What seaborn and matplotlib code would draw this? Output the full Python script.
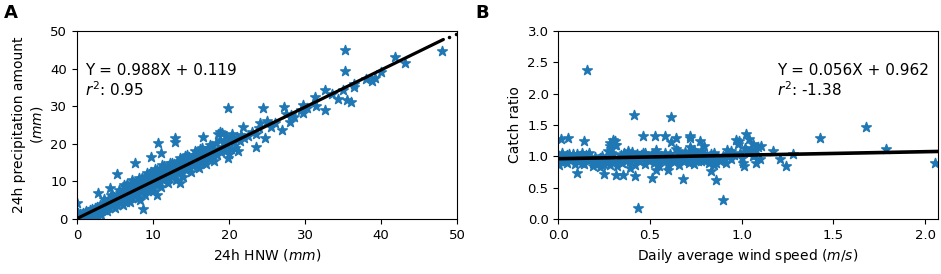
import numpy as np
import pandas as pd
import matplotlib
matplotlib.use("Agg")
import matplotlib.pyplot as plt
import seaborn as sns

# ---------------- Panel A data: 24h HNW vs 24h precipitation amount ----------------
hnw = [0.2, 0.4, 0.5, 0.7, 0.8, 1.0, 1.1, 1.2, 1.3, 1.5, 1.6, 1.7, 1.9, 2.0, 2.1, 2.3, 2.4, 2.5,
       2.7, 2.8, 2.9, 3.0, 3.1, 3.3, 3.4, 3.5, 3.6, 3.8, 3.9, 4.0, 4.1, 4.2, 4.4, 4.5, 4.6, 4.8,
       4.9, 5.0, 5.1, 5.2, 5.3, 5.5, 5.6, 5.7, 5.9, 6.0, 6.1, 6.2, 6.3, 6.4, 6.5, 6.6, 6.7, 6.8,
       6.9, 7.0, 7.1, 7.2, 7.3, 7.4, 7.5, 7.6, 7.8, 7.9, 8.0, 8.1, 8.2, 8.3, 8.5, 8.6, 8.7, 8.8,
       8.9, 9.0, 9.1, 9.2, 9.3, 9.4, 9.5, 9.6, 9.7, 9.8, 9.9, 10.0, 10.1, 10.2, 10.3, 10.4, 10.5,
       10.6, 10.8, 10.9, 11.0, 11.2, 11.3, 11.4, 11.6, 11.7, 11.8, 12.0, 12.1, 12.2, 12.4, 12.5,
       12.6, 12.8, 12.9, 13.0, 13.2, 13.3, 13.5, 13.6, 13.8, 14.0, 14.2, 14.3, 14.5, 14.7, 14.8,
       15.0, 15.2, 15.3, 15.5, 15.7, 15.8, 16.0, 16.2, 16.3, 16.5, 16.7, 16.8, 17.0, 17.2, 17.4,
       17.5, 17.8, 17.9, 18.0, 18.3, 18.4, 18.5, 18.6, 18.8, 19.0, 19.1, 19.2, 19.4, 19.5, 19.6,
       19.8, 20.0, 20.1, 20.2, 20.4, 20.6, 20.8, 21.0, 21.2, 21.4, 21.6, 22.0, 22.5, 23.0, 23.5,
       24.0, 25.0, 25.5, 26.0, 27.5, 28.2, 29.5, 30.2, 33.5, 35.0, 36.5, 38.0, 38.8, 39.2, 40.0,
       35.3, 35.3, 48.0, 41.8, 43.2, 36.4, 36.1, 35.5, 34.4, 32.6, 32.6, 31.3, 31.5, 29.8, 29.8,
       27.2, 27.0, 28.0, 28.5, 24.5, 24.7, 23.6, 24.1, 21.9, 19.9, 18.8, 19.9, 16.6, 12.9, 12.9,
       10.7, 11.1, 9.8, 7.6, 5.3, 4.3, 2.8, 8.7, 13.5, 10.5, 0.0, 8.3, 0.1, 0.3, 1.4, 2.2, 3.2,
       3.0, 4.0, 5.0, 6.0, 7.0, 8.0, 9.0, 10.0, 11.0, 12.0, 13.0, 14.0, 15.0, 16.0, 17.0, 18.0,
       3.5, 4.5, 5.5, 6.5, 7.5, 8.5, 9.5, 10.5, 11.5, 12.5, 13.5, 14.5, 15.5, 16.5, 17.5,
       6.2, 7.2, 8.2, 9.2, 10.2, 11.2, 12.2, 14.2, 16.2]
precip = [0.5, 1.2, 0.3, 0.9, 1.6, 0.8, 1.5, 2.0, 0.9, 1.8, 1.2, 2.4, 1.6, 2.6, 1.3, 2.2, 3.0, 1.8,
          3.3, 2.5, 1.6, 3.6, 2.8, 3.1, 4.0, 2.3, 3.4, 4.4, 3.0, 3.9, 5.0, 2.9, 4.3, 5.3, 3.6, 4.9,
          5.8, 4.1, 5.2, 6.3, 3.8, 5.6, 6.8, 4.7, 5.9, 7.6, 5.0, 6.4, 8.4, 4.6, 6.9, 9.4, 5.8, 7.3,
          8.0, 6.2, 7.6, 9.0, 5.5, 7.9, 8.6, 6.6, 8.2, 9.6, 7.0, 8.5, 10.2, 7.4, 8.9, 10.8, 7.6, 9.3,
          11.2, 8.0, 9.6, 10.5, 7.5, 9.9, 11.6, 8.4, 10.3, 12.6, 8.9, 10.5, 11.8, 9.2, 10.9, 12.2, 9.0,
          11.2, 12.8, 9.8, 11.5, 13.2, 10.4, 11.9, 13.0, 10.8, 12.4, 14.0, 11.0, 12.6, 13.6, 11.6,
          13.0, 14.6, 11.9, 13.4, 15.2, 12.2, 13.8, 15.5, 12.6, 14.3, 16.0, 13.0, 14.8, 16.4, 13.6,
          15.2, 16.8, 14.2, 15.6, 17.0, 14.6, 16.0, 17.6, 14.8, 16.5, 18.2, 15.3, 17.0, 18.8, 16.0,
          17.5, 19.5, 16.6, 18.0, 20.2, 17.0, 22.5, 18.6, 21.0, 17.8, 22.8, 19.2, 20.8, 18.0, 22.2,
          19.9, 17.2, 21.5, 18.6, 22.6, 20.4, 19.0, 21.8, 18.2, 20.8, 22.4, 21.6, 22.0, 23.2, 22.5,
          24.2, 26.0, 24.6, 25.4, 28.0, 27.6, 29.0, 29.4, 33.2, 34.4, 35.8, 37.2, 36.8, 37.5, 39.2,
          44.9, 39.4, 44.8, 43.2, 41.4, 35.2, 31.2, 31.6, 31.9, 34.3, 29.0, 32.5, 30.0, 30.3, 28.1,
          29.9, 23.7, 25.9, 27.2, 29.4, 21.5, 19.2, 25.4, 24.6, 29.4, 23.2, 16.1, 21.7, 21.5, 20.6,
          20.1, 17.5, 16.6, 14.8, 12.0, 8.2, 6.8, 2.7, 9.5, 6.4, 4.2, 5.1, 1.5, 0.2, 0.4, 0.8, 1.0,
          1.2, 2.0, 3.0, 3.6, 4.5, 5.6, 6.3, 7.4, 8.5, 9.6, 10.4, 11.3, 12.4, 13.6, 14.5, 15.4,
          5.2, 6.4, 7.6, 8.8, 9.7, 11.0, 11.9, 13.0, 14.1, 15.0, 16.1, 17.0, 18.0, 19.0, 19.8,
          9.0, 10.4, 11.0, 12.3, 13.4, 14.3, 15.0, 16.8, 18.6]
fit_a = (0.988, 0.119)          # slope, intercept
fit_a_range = (0.0, 48.2)
fit_a_dots = [49.0, 49.8]        # trailing prediction dots beyond the line

# ---------------- Panel B data: wind speed vs catch ratio ----------------
wind = [0.00, 0.01, 0.02, 0.03, 0.04, 0.05, 0.06, 0.07, 0.08, 0.09, 0.10, 0.11, 0.12, 0.13, 0.14,
        0.15, 0.16, 0.17, 0.18, 0.19, 0.20, 0.21, 0.22, 0.23, 0.24, 0.25, 0.26, 0.27, 0.28, 0.29,
        0.30, 0.31, 0.32, 0.33, 0.34, 0.35, 0.36, 0.37, 0.38, 0.39, 0.40, 0.41, 0.42, 0.43, 0.44,
        0.45, 0.46, 0.47, 0.48, 0.49, 0.50, 0.51, 0.52, 0.53, 0.54, 0.55, 0.56, 0.57, 0.58, 0.59,
        0.60, 0.61, 0.62, 0.63, 0.64, 0.65, 0.66, 0.67, 0.68, 0.69, 0.70, 0.71, 0.72, 0.73, 0.74,
        0.75, 0.76, 0.77, 0.78, 0.79, 0.80, 0.81, 0.82, 0.83, 0.84, 0.85, 0.86, 0.87, 0.88, 0.90,
        0.92, 0.94, 0.96, 0.98, 1.00, 1.02, 1.04, 1.06, 1.08, 1.10,
        0.00, 0.02, 0.04, 0.06, 0.08, 0.11, 0.13, 0.15, 0.18, 0.21, 0.24, 0.27, 0.30, 0.33, 0.36,
        0.39, 0.42, 0.45, 0.48, 0.51, 0.54, 0.57, 0.60, 0.63, 0.66, 0.69, 0.72, 0.75, 0.78, 0.81,
        0.84, 0.87, 0.91, 0.95, 0.99, 1.03, 1.07,
        0.01, 0.03, 0.05, 0.09, 0.12, 0.16, 0.19, 0.23, 0.26, 0.29, 0.35, 0.38, 0.44, 0.47, 0.53,
        0.56, 0.62, 0.65, 0.71, 0.74, 0.80, 0.83, 0.89, 0.93, 1.05,
        0.158, 0.435, 0.413, 0.616, 0.897, 0.86, 0.68, 0.51, 1.676, 1.428, 1.788, 2.056, 1.28,
        1.24, 1.21, 1.17, 1.105, 1.078, 1.024, 1.01, 1.005, 0.987, 0.97, 0.94, 0.915, 0.85, 0.833,
        0.797, 0.77, 0.716, 0.72, 0.643, 0.616, 0.58, 0.525, 0.462, 0.598, 0.534, 0.353, 0.417,
        0.317, 0.10, 0.054, 0.013, 0.141, 0.30, 0.284, 0.317, 0.005, 1.04, 1.06, 1.09, 0.25,
        0.28, 0.31]
ratio = [1.02, 0.92, 1.05, 0.96, 1.00, 0.90, 1.04, 0.95, 0.99, 0.88, 1.03, 0.93, 0.98, 1.06, 0.87,
         1.01, 0.94, 1.05, 0.97, 0.85, 0.99, 0.92, 0.96, 0.83, 1.00, 0.88, 0.94, 1.08, 0.86, 1.12,
         0.91, 1.18, 0.84, 0.97, 1.02, 0.89, 1.05, 0.93, 1.09, 0.81, 1.07, 0.95, 0.86, 1.04, 0.92,
         0.98, 1.06, 0.88, 1.00, 0.94, 0.97, 1.03, 0.89, 1.10, 0.95, 0.85, 1.01, 0.92, 1.06, 0.97,
         0.88, 1.04, 0.99, 0.91, 1.12, 0.96, 0.86, 1.02, 0.93, 1.07, 0.99, 0.90, 1.15, 0.96, 0.87,
         1.05, 0.92, 1.00, 1.08, 0.94, 1.02, 0.96, 0.90, 1.04, 0.93, 1.06, 0.89, 0.98, 0.92, 1.00,
         1.10, 0.95, 1.02, 1.20, 0.97, 1.14, 1.06, 1.00, 1.10, 0.95,
         0.95, 1.00, 0.92, 0.98, 1.03, 0.95, 0.90, 1.02, 0.97, 0.91, 0.86, 0.95, 1.04, 0.92, 1.00,
         0.93, 0.99, 1.02, 0.95, 1.00, 0.93, 0.97, 0.98, 0.94, 1.01, 0.96, 1.03, 0.97, 0.93, 1.00,
         0.95, 0.98, 0.96, 1.03, 1.05, 1.08, 1.02,
         0.98, 0.96, 1.02, 0.94, 1.00, 0.96, 0.90, 0.97, 0.92, 1.05, 0.99, 1.02, 1.01, 1.05, 1.06,
         0.96, 0.95, 1.08, 0.92, 1.10, 0.99, 1.01, 0.97, 1.03, 1.12,
         2.37, 0.17, 1.66, 1.63, 0.30, 0.62, 0.64, 0.66, 1.47, 1.30, 1.12, 0.90, 1.03,
         0.84, 0.96, 1.09, 1.17, 0.90, 1.35, 0.84, 0.89, 1.24, 1.26, 1.08, 0.89, 0.86, 0.76,
         1.16, 1.24, 1.32, 1.30, 1.30, 1.23, 1.32, 1.33, 1.33, 0.78, 0.78, 0.70, 0.68,
         0.70, 0.74, 1.30, 1.28, 1.24, 1.26, 1.16, 1.18, 0.86, 1.28, 1.20, 1.15, 0.72,
         1.22, 1.24]
fit_b = (0.056, 0.962)
fit_b_range = (0.0, 2.07)

# ---------------- Figure ----------------
sns.set_style("ticks")
plt.rcParams["font.family"] = ["DejaVu Sans"]
plt.rcParams["mathtext.fontset"] = "dejavusans"
for key in ("text.color", "axes.labelcolor", "xtick.color", "ytick.color", "axes.edgecolor"):
    plt.rcParams[key] = "black"

fig = plt.figure(figsize=(9.41, 2.74), dpi=100)
axA = fig.add_axes([0.0818, 0.2007, 0.4039, 0.6862])
axB = fig.add_axes([0.5933, 0.2007, 0.4035, 0.6862])

blue = "#1f77b4"
dfA = pd.DataFrame({"hnw": hnw, "precip": precip})
dfB = pd.DataFrame({"wind": wind, "ratio": ratio})

sns.scatterplot(data=dfA, x="hnw", y="precip", marker="*", s=52, color=blue,
                edgecolor=blue, linewidth=1.1, ax=axA, zorder=2)
xa = np.linspace(fit_a_range[0], fit_a_range[1], 50)
sns.lineplot(x=xa, y=fit_a[0] * xa + fit_a[1], color="black", linewidth=2.3, ax=axA, zorder=3)
xd = np.array(fit_a_dots)
axA.plot(xd, fit_a[0] * xd + fit_a[1], "k.", markersize=3, zorder=3)

sns.scatterplot(data=dfB, x="wind", y="ratio", marker="*", s=52, color=blue,
                edgecolor=blue, linewidth=1.1, ax=axB, zorder=2)
xb = np.linspace(fit_b_range[0], fit_b_range[1], 50)
sns.lineplot(x=xb, y=fit_b[0] * xb + fit_b[1], color="black", linewidth=2.6, ax=axB, zorder=3)

axA.set_xlim(0, 50)
axA.set_ylim(0, 50)
axA.set_xticks([0, 10, 20, 30, 40, 50])
axA.set_yticks([0, 10, 20, 30, 40, 50])
axA.set_xlabel("24h HNW ($mm$)", fontsize=10)
axA.set_ylabel("24h precipitation amount\n($mm$)", fontsize=10)
axA.text(1.0, 39.4, "Y = 0.988X + 0.119", fontsize=11, va="center")
axA.text(1.0, 34.3, "$r^2$: 0.95", fontsize=11, va="center")

axB.set_xlim(0, 2.07)
axB.set_ylim(0, 3.0)
axB.set_xticks([0.0, 0.5, 1.0, 1.5, 2.0])
axB.set_yticks([0.0, 0.5, 1.0, 1.5, 2.0, 2.5, 3.0])
axB.set_xlabel("Daily average wind speed ($m/s$)", fontsize=10)
axB.set_ylabel("Catch ratio", fontsize=10)
axB.text(1.19, 2.37, "Y = 0.056X + 0.962", fontsize=11, va="center")
axB.text(1.19, 2.07, "$r^2$: -1.38", fontsize=11, va="center")

for ax in (axA, axB):
    ax.tick_params(labelsize=9.5, length=3.5, width=0.8, colors="black")
    for sp in ax.spines.values():
        sp.set_linewidth(0.8)
        sp.set_color("black")

fig.text(0.004, 0.985, "A", fontsize=13, fontweight="bold", va="top")
fig.text(0.505, 0.985, "B", fontsize=13, fontweight="bold", va="top")

fig.savefig("out.png", dpi=100)
